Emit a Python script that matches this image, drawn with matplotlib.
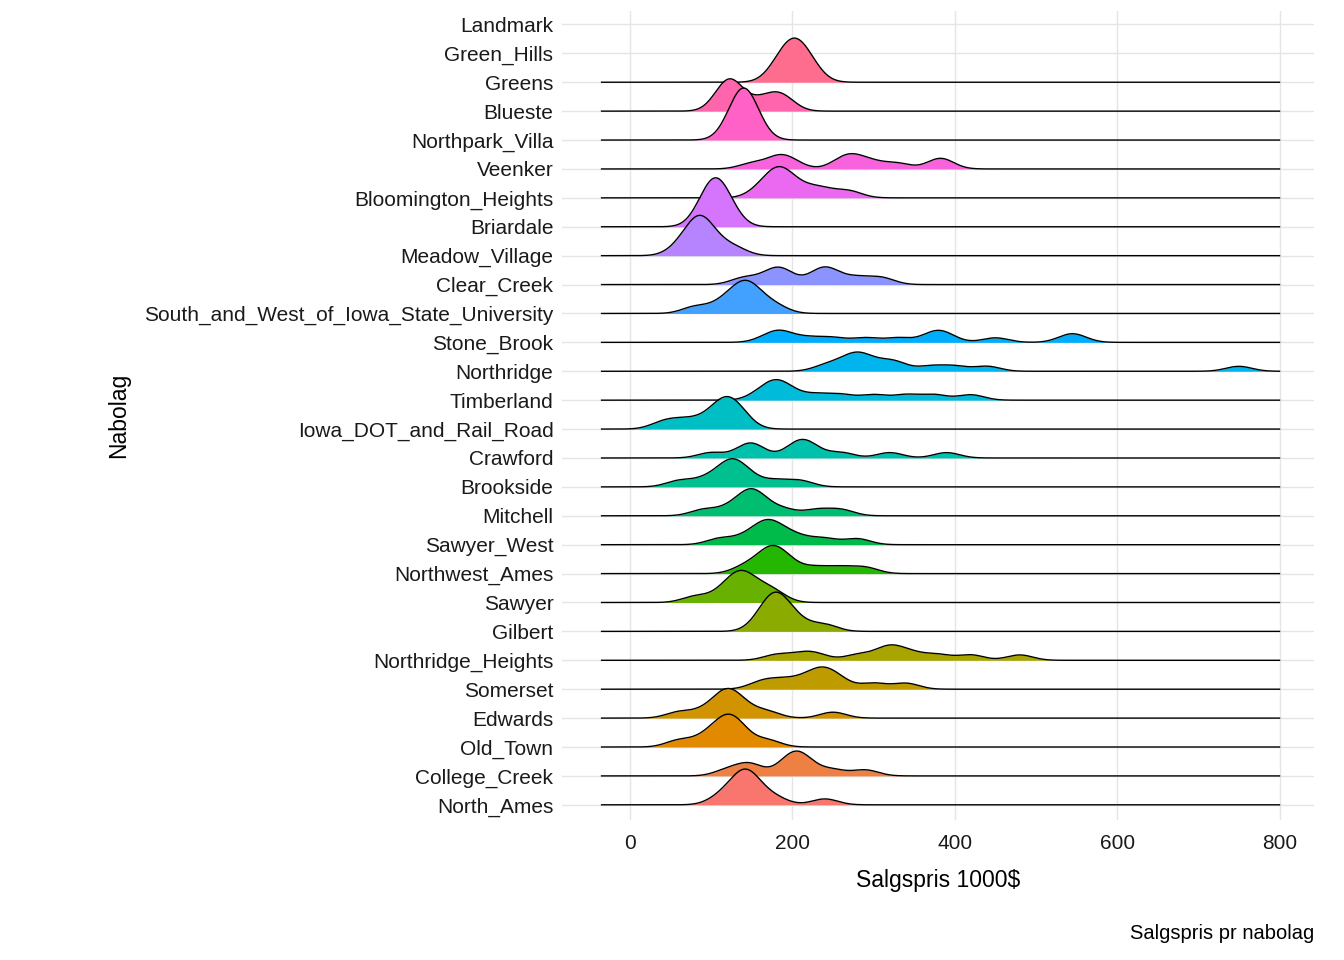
"""
Salgspris pr nabolag - ridgeline (ggridges-stil)
"""
import numpy as np
import matplotlib.pyplot as plt

plt.rcParams["font.family"] = ["Liberation Sans", "DejaVu Sans"]

# nabolag, nederst til øverst
nabolag = ["North_Ames", "College_Creek", "Old_Town", "Edwards", "Somerset",
           "Northridge_Heights", "Gilbert", "Sawyer", "Northwest_Ames", "Sawyer_West",
           "Mitchell", "Brookside", "Crawford", "Iowa_DOT_and_Rail_Road", "Timberland",
           "Northridge", "Stone_Brook", "South_and_West_of_Iowa_State_University",
           "Clear_Creek", "Meadow_Village", "Briardale", "Bloomington_Heights", "Veenker",
           "Northpark_Villa", "Blueste", "Greens", "Green_Hills", "Landmark"]

# salgspriser (1000$) lest ut fra figuren
priser = {
    "North_Ames": [110, 125, 135, 140, 142, 145, 150, 160, 180, 240],
    "College_Creek": [120, 145, 150, 190, 200, 205, 210, 220, 250, 290],
    "Old_Town": [60, 90, 105, 115, 120, 125, 130, 140, 170],
    "Edwards": [60, 90, 110, 115, 120, 125, 130, 145, 170, 250],
    "Somerset": [160, 180, 200, 220, 230, 240, 245, 260, 300, 340],
    "Northridge_Heights": [180, 210, 230, 280, 310, 320, 330, 350, 380, 420, 480],
    "Gilbert": [160, 170, 175, 180, 182, 185, 195, 210, 240],
    "Sawyer": [80, 110, 125, 130, 135, 140, 145, 155, 170, 180],
    "Northwest_Ames": [140, 160, 170, 175, 180, 185, 200, 230, 260, 290],
    "Sawyer_West": [110, 140, 160, 165, 170, 180, 190, 210, 240, 280],
    "Mitchell": [90, 120, 140, 145, 150, 155, 165, 190, 230, 260],
    "Brookside": [60, 90, 110, 120, 125, 130, 135, 150, 180, 210],
    "Crawford": [100, 140, 150, 155, 200, 210, 215, 225, 260, 320, 390],
    "Iowa_DOT_and_Rail_Road": [40, 60, 80, 100, 110, 115, 120, 125, 130, 140],
    "Timberland": [160, 175, 180, 185, 200, 230, 260, 300, 340, 375, 420],
    "Northridge": [240, 260, 275, 280, 285, 300, 320, 330, 370, 400, 440, 750],
    "Stone_Brook": [170, 185, 190, 220, 250, 290, 330, 370, 380, 390, 450, 540, 550],
    "South_and_West_of_Iowa_State_University": [80, 110, 125, 135, 140, 145, 150, 160, 180],
    "Clear_Creek": [140, 170, 185, 190, 230, 240, 250, 280, 310],
    "Meadow_Village": [60, 75, 80, 85, 88, 90, 95, 110, 130],
    "Briardale": [90, 95, 100, 105, 108, 110, 115, 125],
    "Bloomington_Heights": [160, 175, 180, 185, 190, 200, 220, 240, 270],
    "Veenker": [150, 180, 185, 200, 260, 270, 280, 300, 330, 380, 385],
    "Northpark_Villa": [125, 130, 135, 138, 140, 140, 142, 145, 150, 155],
    "Blueste": [115, 120, 125, 130, 160, 180, 190],
    "Greens": [180, 190, 195, 200, 205, 210, 215, 225],
    "Green_Hills": [],
    "Landmark": [],
}


def hcl_hex(h, c=100, l=65):
    # polarLUV -> sRGB (som scales::hue_pal)
    hr = np.deg2rad(h)
    u, v = c * np.cos(hr), c * np.sin(hr)
    xn, yn, zn = 95.047, 100.0, 108.883
    un = 4 * xn / (xn + 15 * yn + 3 * zn)
    vn = 9 * yn / (xn + 15 * yn + 3 * zn)
    y = yn * (((l + 16) / 116) ** 3 if l > 8 else l / 903.3)
    up = u / (13 * l) + un
    vp = v / (13 * l) + vn
    x = 9 * y * up / (4 * vp)
    z = -x / 3 - 5 * y + 3 * y / vp
    m = np.array([[3.240479, -1.537150, -0.498535],
                  [-0.969256, 1.875992, 0.041556],
                  [0.055648, -0.204043, 1.057311]])
    rgb = m @ (np.array([x, y, z]) / 100)
    rgb = np.where(rgb > 0.0031308, 1.055 * np.clip(rgb, 0, None) ** (1 / 2.4) - 0.055, 12.92 * rgb)
    return tuple(np.clip(rgb, 0, 1))


n = len(nabolag)
n_farger = 26
hues = np.linspace(15, 375, n_farger + 1)[:n_farger]
farger = [hcl_hex(h) for h in hues]

grid = np.linspace(-35, 800, 700)
bw = 16.0  # felles båndbredde
dens = {}
for nb in nabolag:
    v = np.array(priser[nb], dtype=float)
    if len(v) < 2:
        continue
    d = np.exp(-0.5 * ((grid[:, None] - v[None, :]) / bw) ** 2).sum(1) / (len(v) * bw * np.sqrt(2 * np.pi))
    dens[nb] = d
maks = max(d.max() for d in dens.values())
skala = 1.8

fig = plt.figure(figsize=(13.44, 9.6), dpi=100)
ax = fig.add_axes([0.418, 0.146, 0.56, 0.843])
for i, nb in enumerate(nabolag):
    if nb not in dens:
        continue
    h = dens[nb] / maks * skala
    z = n - i
    ax.fill_between(grid, i, i + h, color=farger[i], lw=0, zorder=z)
    ax.plot(grid, i + h, color="black", lw=1, zorder=z + 0.1)

ax.set_xlim(-84, 843)
ax.set_ylim(-0.52, 27.48)
ax.set_xticks([0, 200, 400, 600, 800])
ax.set_yticks(range(n))
ax.set_yticklabels(nabolag)
ax.tick_params(length=0, labelsize=15, labelcolor="#1a1a1a", pad=6)
ax.tick_params(axis="x", pad=10)
ax.grid(True, color="#e5e5e5", lw=1)
ax.set_axisbelow(True)
for s in ax.spines.values():
    s.set_visible(False)
ax.set_xlabel("Salgspris 1000$", fontsize=16.5, labelpad=12)
ax.set_ylabel("Nabolag", fontsize=16.5, labelpad=10)
fig.text(0.978, 0.018, "Salgspris pr nabolag", ha="right", va="bottom", fontsize=14.5)
fig.savefig("out.png", dpi=100)
plt.close()
